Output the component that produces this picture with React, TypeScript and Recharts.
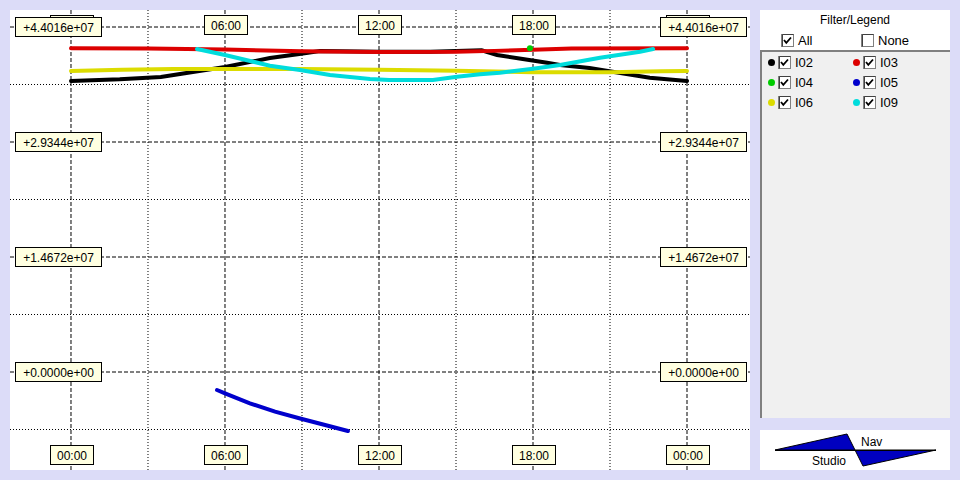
import React from 'react';
import { LineChart, Line, XAxis, YAxis, ReferenceLine } from 'recharts';

// series names and colours (legend order)
const seriesNames = ['I02', 'I03', 'I04', 'I05', 'I06', 'I09'];
const seriesColors = ['#000000', '#dc0000', '#00cc00', '#0000cc', '#dcdc00', '#00dcdc'];

// hours since 00:00 and values for each series
const i02Hours = [0, 1.9, 3.5, 6, 7.75, 8.9, 9.7, 12, 14, 16, 16.6, 17.6, 18.55, 19.05, 20.2, 21.4, 22.55, 24];
const i02Values = [3.713e7, 3.734e7, 3.764e7, 3.891e7, 4.006e7, 4.057e7, 4.095e7, 4.085e7, 4.086e7, 4.104e7, 4.044e7, 3.993e7, 3.946e7, 3.917e7, 3.879e7, 3.815e7, 3.755e7, 3.713e7];

const i03Hours = [0, 3, 6, 9, 12, 15, 16.5, 18, 19.5, 24];
const i03Values = [4.13e7, 4.128e7, 4.113e7, 4.092e7, 4.083e7, 4.085e7, 4.097e7, 4.11e7, 4.128e7, 4.13e7];

const i04Hours = [17.88];
const i04Values = [4.13e7];

const i05Hours = [5.69, 6, 6.97, 7.95, 9, 9.9, 10.79];
const i05Values = [-2.296e6, -2.718e6, -3.993e6, -5.065e6, -5.996e6, -6.762e6, -7.527e6];

const i06Hours = [0, 2, 4, 9, 12, 15, 18, 21, 23, 24];
const i06Values = [3.84e7, 3.856e7, 3.866e7, 3.866e7, 3.857e7, 3.842e7, 3.825e7, 3.825e7, 3.838e7, 3.84e7];

const i09Hours = [4.91, 6, 7.75, 8.92, 10.09, 10.87, 11.65, 12.4, 14.1, 15.04, 15.94, 16.71, 18, 19.05, 20.61, 22.17, 22.68];
const i09Values = [4.121e7, 4.044e7, 3.908e7, 3.853e7, 3.789e7, 3.764e7, 3.738e7, 3.725e7, 3.725e7, 3.768e7, 3.798e7, 3.819e7, 3.87e7, 3.917e7, 4.01e7, 4.087e7, 4.121e7];

// axis ticks
const xTicks = [0, 6, 12, 18, 24];
const xMinor = [3, 9, 15, 21];
const yTicks = [0, 1.4672e7, 2.9344e7, 4.4016e7];
const yMinor = [-7.336e6, 7.336e6, 2.2008e7, 3.668e7];

const xDomain = [-2.3766, 26.4545];
const yDomain = [-1.2503e7, 4.6185e7];

const toPoints = (hours: number[], values: number[]) => hours.map((t, i) => ({ t, v: values[i] }));

const series = [
  toPoints(i02Hours, i02Values),
  toPoints(i03Hours, i03Values),
  toPoints(i04Hours, i04Values),
  toPoints(i05Hours, i05Values),
  toPoints(i06Hours, i06Values),
  toPoints(i09Hours, i09Values),
];

const font = '"Liberation Sans", Arial, sans-serif';
const boxFill = '#ffffe1';

const fmtX = (h: number) => String(h % 24).padStart(2, '0') + ':00';
const fmtY = (v: number) => {
  const [m, e] = v.toExponential(4).split('e');
  const en = parseInt(e, 10);
  return (v >= 0 ? '+' : '') + m + 'e' + (en < 0 ? '-' : '+') + String(Math.abs(en)).padStart(2, '0');
};

// boxed tick label centred on (cx, cy); text is left out when the box sits under another one
function TagBox({ cx, cy, w, text }: { cx: number; cy: number; w: number; text?: string }) {
  const left = Math.round(cx - w / 2) + 0.5;
  const top = Math.round(cy - 10) + 0.5;
  return (
    <g>
      <rect x={left} y={top} width={w} height={19} fill={boxFill} stroke="#000" shapeRendering="crispEdges" />
      {text && (
        <text x={left + w / 2} y={top + 14} textAnchor="middle" fontFamily={font} fontSize={12} fill="#000">
          {text}
        </text>
      )}
    </g>
  );
}

// time labels at the top and bottom of a vertical grid line
function TimeTags(props: any) {
  const { viewBox, hour } = props;
  if (!viewBox) return null;
  const x = viewBox.x;
  // at the ends the top tag is covered by the value tags
  const covered = hour % 24 === 0;
  return (
    <g>
      <TagBox cx={x + 0.5} cy={viewBox.y + 15} w={43} text={covered ? undefined : fmtX(hour)} />
      <TagBox cx={x + 0.5} cy={viewBox.y + viewBox.height - 15} w={43} text={fmtX(hour)} />
    </g>
  );
}

// value labels at both ends of a horizontal grid line
function ValueTags(props: any) {
  const { viewBox, value } = props;
  if (!viewBox) return null;
  const y = viewBox.y;
  return (
    <g>
      <TagBox cx={viewBox.x + 48} cy={y} w={86} text={fmtY(value)} />
      <TagBox cx={viewBox.x + viewBox.width - 47} cy={y} w={86} text={fmtY(value)} />
    </g>
  );
}

function CheckBox({ checked }: { checked: boolean }) {
  return (
    <svg width={13} height={13} style={{ display: 'block' }}>
      <rect x={0.5} y={0.5} width={12} height={12} fill="#fff" stroke="#808080" />
      <path d="M1.5 0.5 H12.5 M1.5 0.5 V12.5" stroke="#404040" />
      {checked && <path d="M3 6 L5.3 8.8 L10 3.5" stroke="#000" strokeWidth={1.8} fill="none" />}
    </svg>
  );
}

function LegendPanel() {
  return (
    <div style={{ position: 'absolute', left: 760, top: 10, width: 190, height: 408, background: '#fff', fontFamily: font, fontSize: 12, color: '#000' }}>
      <div style={{ position: 'absolute', left: 0, width: 190, top: 3, textAlign: 'center' }}>Filter/Legend</div>
      <div style={{ position: 'absolute', left: 21, top: 24 }}><CheckBox checked /></div>
      <div style={{ position: 'absolute', left: 38, top: 23, fontSize: 13 }}>All</div>
      <div style={{ position: 'absolute', left: 101, top: 24 }}><CheckBox checked={false} /></div>
      <div style={{ position: 'absolute', left: 118, top: 23, fontSize: 13 }}>None</div>
      <div style={{ position: 'absolute', left: 0, top: 40, width: 188, height: 366, background: '#f0f0f0', borderTop: '2px solid #808080', borderLeft: '2px solid #808080' }}>
        {seriesNames.map((name, i) => {
          const col = i % 2;
          const row = Math.floor(i / 2);
          const bx = col === 0 ? 0 : 85;
          const ty = 4 + row * 20;
          return (
            <div key={name}>
              <div style={{ position: 'absolute', left: bx + 6, top: ty + 3, width: 7, height: 7, borderRadius: 4, background: seriesColors[i] }} />
              <div style={{ position: 'absolute', left: bx + 16, top: ty }}><CheckBox checked /></div>
              <div style={{ position: 'absolute', left: bx + 33, top: ty - 1, fontSize: 13 }}>{name}</div>
            </div>
          );
        })}
      </div>
    </div>
  );
}

function NavPanel() {
  return (
    <div style={{ position: 'absolute', left: 760, top: 430, width: 190, height: 40, background: '#fff' }}>
      <svg width={190} height={40}>
        <polygon points="15,20 87,4 95,20" fill="#0000c0" stroke="#000" />
        <polygon points="95,20 103,36 176,20" fill="#0000c0" stroke="#000" />
        <line x1={15} y1={20.5} x2={176} y2={20.5} stroke="#000" />
        <text x={101} y={16} fontFamily={font} fontSize={12} fill="#000">Nav</text>
        <text x={52} y={35} fontFamily={font} fontSize={12} fill="#000">Studio</text>
      </svg>
    </div>
  );
}

export default function App() {
  return (
    <div style={{ position: 'absolute', left: 0, top: 0, width: 960, height: 480, background: '#dcdcf8', overflow: 'hidden' }}>
      <div style={{ position: 'absolute', left: 10, top: 10, width: 740, height: 460, background: '#fff' }}>
        <LineChart width={740} height={460} margin={{ top: 0, right: 0, bottom: 0, left: 0 }}>
          <XAxis xAxisId="b" type="number" dataKey="t" domain={xDomain} ticks={xTicks} allowDataOverflow hide />
          <YAxis yAxisId="l" type="number" domain={yDomain} ticks={yTicks} allowDataOverflow hide />
          {xMinor.map((t) => (
            <ReferenceLine key={'xm' + t} x={t} xAxisId="b" yAxisId="l" stroke="#000" strokeDasharray="1 2" />
          ))}
          {yMinor.map((v) => (
            <ReferenceLine key={'ym' + v} y={v} xAxisId="b" yAxisId="l" stroke="#000" strokeDasharray="1 2" />
          ))}
          {xTicks.map((t) => (
            <ReferenceLine key={'x' + t} x={t} xAxisId="b" yAxisId="l" stroke="#000" strokeDasharray="4 2" />
          ))}
          {yTicks.map((v) => (
            <ReferenceLine key={'y' + v} y={v} xAxisId="b" yAxisId="l" stroke="#000" strokeDasharray="4 2" />
          ))}
          {series.map((data, i) => (
            <Line
              key={seriesNames[i]}
              data={data}
              dataKey="v"
              name={seriesNames[i]}
              xAxisId="b"
              yAxisId="l"
              type="linear"
              stroke={seriesColors[i]}
              strokeWidth={4}
              strokeLinecap="round"
              dot={data.length === 1 ? { r: 3, fill: seriesColors[i], stroke: 'none' } : false}
              activeDot={false}
              isAnimationActive={false}
            />
          ))}
          {xTicks.map((t) => (
            <ReferenceLine key={'xl' + t} x={t} xAxisId="b" yAxisId="l" stroke="none" label={<TimeTags hour={t} />} />
          ))}
          {yTicks.map((v) => (
            <ReferenceLine key={'yl' + v} y={v} xAxisId="b" yAxisId="l" stroke="none" label={<ValueTags value={v} />} />
          ))}
        </LineChart>
      </div>
      <LegendPanel />
      <NavPanel />
    </div>
  );
}
